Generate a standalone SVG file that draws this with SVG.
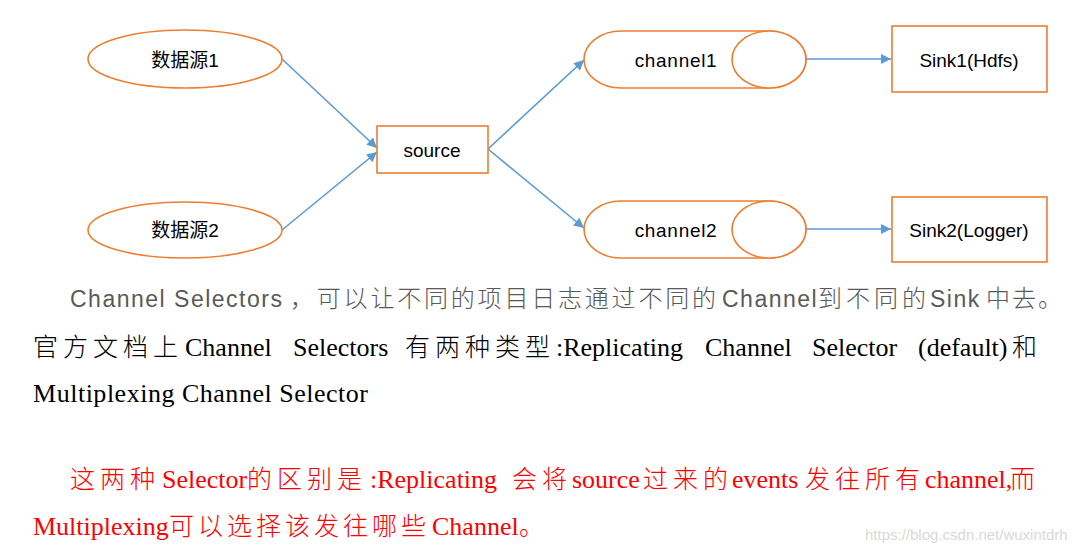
<svg xmlns="http://www.w3.org/2000/svg" width="1087" height="551" viewBox="0 0 1087 551">
<defs>
<marker id="ah" viewBox="0 0 10 10" refX="10" refY="5" markerWidth="11" markerHeight="10" markerUnits="userSpaceOnUse" orient="auto">
<path d="M0,0 L10,5 L0,10 Z" fill="#5B9BD5"/>
</marker>
<style>
.shape{fill:#fff;stroke:#ED7D31;stroke-width:1.6}
.lbl{font-family:"Liberation Sans",Arial,"Noto Sans CJK SC",sans-serif;font-size:19px;fill:#000;text-anchor:middle;dominant-baseline:central}
.conn{stroke:#5B9BD5;stroke-width:1.6;fill:none;marker-end:url(#ah)}
.sans{font-family:"Liberation Sans",Arial,"Noto Sans CJK SC",sans-serif}
.serif{font-family:"Liberation Serif","Times New Roman","Noto Sans CJK SC",serif}
.cjk{font-family:"Noto Sans CJK SC",sans-serif;font-weight:300}
.l1 .sans{font-size:23px;letter-spacing:1.5px}
.l1 .cjk{font-size:24px;letter-spacing:2.8px}
.tm .serif{font-size:26px}
.tm .cjk{font-size:25px;letter-spacing:5px}
</style>
</defs>
<rect width="1087" height="551" fill="#fff"/>
<g id="connectors">
<line class="conn" x1="282" y1="59" x2="377" y2="148"/>
<line class="conn" x1="282" y1="230" x2="377" y2="152"/>
<line class="conn" x1="488" y1="149" x2="584" y2="60"/>
<line class="conn" x1="488" y1="149" x2="584" y2="228"/>
<line class="conn" x1="806" y1="59" x2="891" y2="59"/>
<line class="conn" x1="806" y1="229" x2="891" y2="229"/>
</g>
<g id="src1">
<ellipse class="shape" cx="185" cy="59" rx="97" ry="29"/>
<text class="lbl" x="185" y="60">数据源1</text>
</g>
<g id="src2">
<ellipse class="shape" cx="185" cy="230" rx="97" ry="28"/>
<text class="lbl" x="185" y="230">数据源2</text>
</g>
<g id="source">
<rect class="shape" x="377" y="126" width="111" height="47"/>
<text class="lbl" x="432" y="150">source</text>
</g>
<g id="channel1">
<path class="shape" d="M621,31 L769,31 A37,28.5 0 0 1 769,88 L621,88 A37,28.5 0 0 1 621,31 Z"/>
<ellipse class="shape" cx="769" cy="59.5" rx="37" ry="28.5"/>
<text class="lbl" x="676" y="60" letter-spacing="0.7">channel1</text>
</g>
<g id="channel2">
<path class="shape" d="M621,201 L769,201 A37,28.5 0 0 1 769,258 L621,258 A37,28.5 0 0 1 621,201 Z"/>
<ellipse class="shape" cx="769" cy="229.5" rx="37" ry="28.5"/>
<text class="lbl" x="676" y="230" letter-spacing="0.7">channel2</text>
</g>
<g id="sink1">
<rect class="shape" x="892" y="26" width="155" height="66"/>
<text class="lbl" x="969" y="60">Sink1(Hdfs)</text>
</g>
<g id="sink2">
<rect class="shape" x="892" y="197" width="155" height="65"/>
<text class="lbl" x="969" y="230">Sink2(Logger)</text>
</g>
<g id="text">
<text class="l1" y="307" fill="#595959"><tspan class="sans" x="70">Channel Selectors</tspan><tspan class="cjk" x="290">，可以让不同的项目日志通过不同的</tspan><tspan class="sans" x="722">Channel</tspan><tspan class="cjk" x="818" style="letter-spacing:4px">到不同的</tspan><tspan class="sans" x="930">Sink</tspan><tspan class="cjk" x="986" style="letter-spacing:2px">中去。</tspan></text>
<text class="tm" y="356" fill="#000"><tspan class="cjk" x="33">官方文档上</tspan><tspan class="serif" x="185">Channel</tspan><tspan class="serif" x="293">Selectors</tspan><tspan class="cjk" x="405">有两种类型</tspan><tspan class="serif" x="556">:Replicating</tspan><tspan class="serif" x="705">Channel</tspan><tspan class="serif" x="812">Selector</tspan><tspan class="serif" x="918">(default)</tspan><tspan class="cjk" x="1012">和</tspan></text>
<text class="tm" y="402" fill="#000"><tspan class="serif" x="33" textLength="335" lengthAdjust="spacing">Multiplexing Channel Selector</tspan></text>
<text class="tm" y="488" fill="#FF0000"><tspan class="cjk" x="70">这两种</tspan><tspan class="serif" x="162">Selector</tspan><tspan class="cjk" x="247">的区别是</tspan><tspan class="serif" x="370">:Replicating</tspan><tspan class="cjk" x="512">会将</tspan><tspan class="serif" x="572">source</tspan><tspan class="cjk" x="643">过来的</tspan><tspan class="serif" x="732">events</tspan><tspan class="cjk" x="805">发往所有</tspan><tspan class="serif" x="925">channel,</tspan><tspan class="cjk" x="1010">而</tspan></text>
<text class="tm" y="535" fill="#FF0000"><tspan class="serif" x="33">Multiplexing</tspan><tspan class="cjk" x="169" style="letter-spacing:4px">可以选择该发往哪些</tspan><tspan class="serif" x="432">Channel</tspan><tspan class="cjk" x="519">。</tspan></text>
<text x="865" y="540" class="sans" font-size="15" fill="#D9D9D9">https://blog.csdn.net/wuxintdrh</text>
</g>
</svg>
